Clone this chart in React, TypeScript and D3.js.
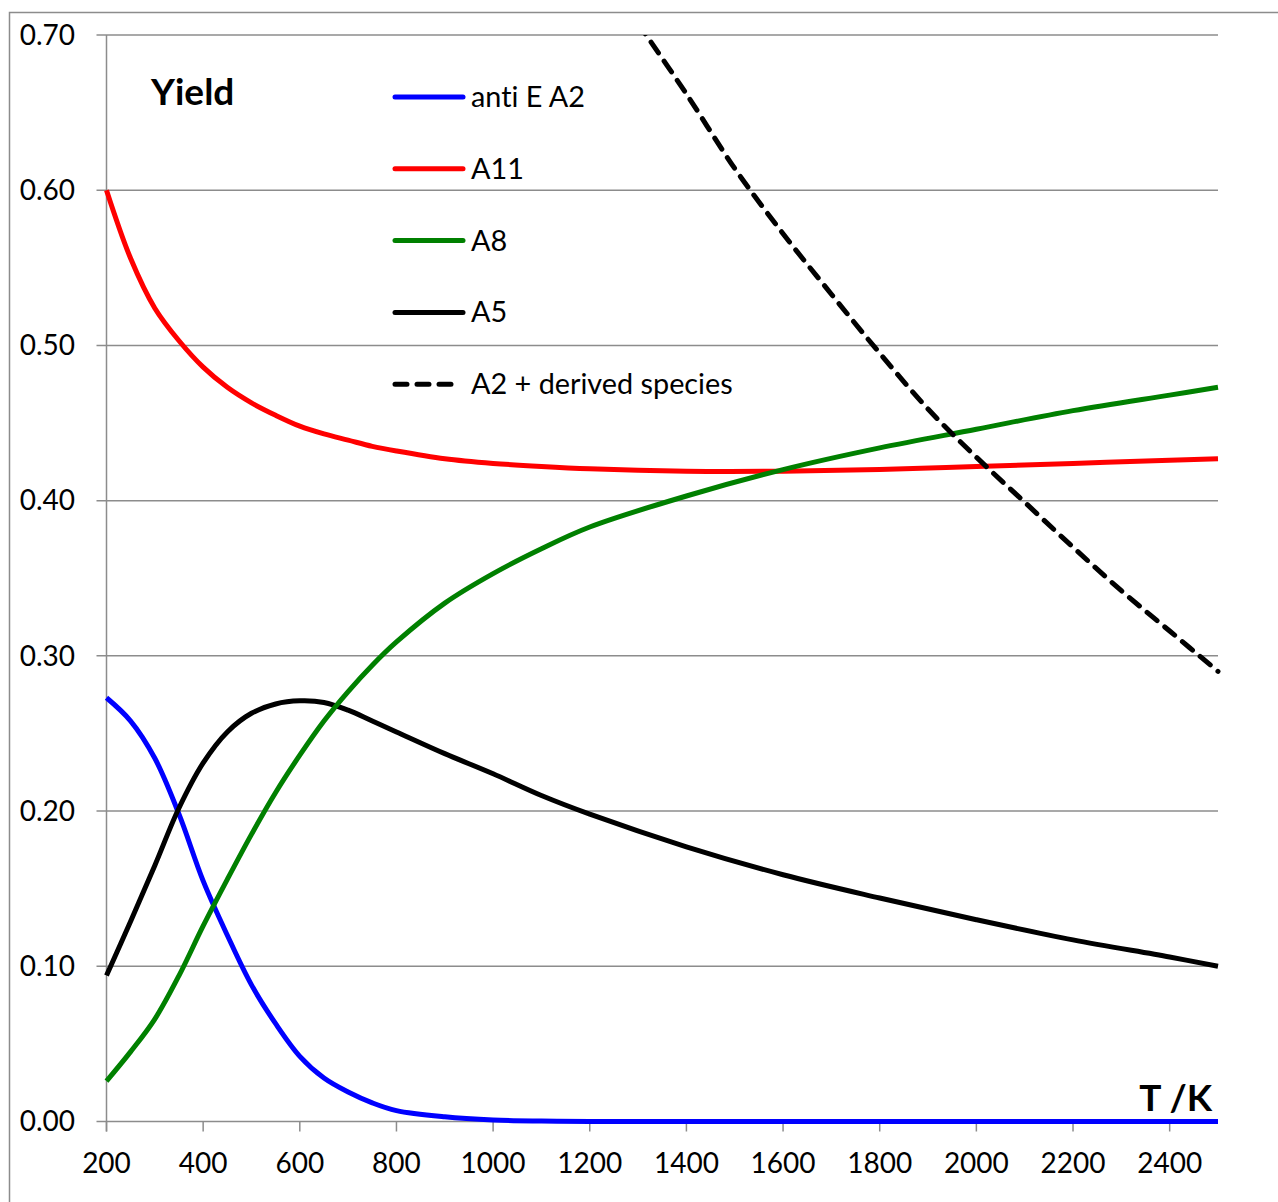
import React, { useEffect, useRef } from 'react';
import * as d3 from 'd3';

// temperatures (K) shared by the four solid series
const temps = [200, 250, 300, 350, 400, 450, 500, 550, 600, 650, 700, 750, 800, 900, 1000, 1100, 1200, 1400, 1600, 1800, 2000, 2200, 2400, 2500];

const antiEA2 = [0.273, 0.258, 0.234, 0.198, 0.155, 0.12, 0.088, 0.063, 0.042, 0.028, 0.019, 0.012, 0.007, 0.003, 0.001, 0.0003, 0, 0, 0, 0, 0, 0, 0, 0];
const a11 = [0.6, 0.556, 0.524, 0.503, 0.486, 0.473, 0.463, 0.455, 0.448, 0.443, 0.439, 0.435, 0.432, 0.427, 0.424, 0.422, 0.4205, 0.419, 0.419, 0.42, 0.422, 0.424, 0.426, 0.427];
const a8 = [0.026, 0.045, 0.066, 0.094, 0.126, 0.156, 0.185, 0.212, 0.236, 0.258, 0.277, 0.294, 0.309, 0.334, 0.353, 0.369, 0.383, 0.403, 0.42, 0.434, 0.446, 0.458, 0.468, 0.473];
const a5 = [0.094, 0.129, 0.165, 0.202, 0.231, 0.251, 0.263, 0.269, 0.271, 0.27, 0.265, 0.258, 0.251, 0.237, 0.224, 0.21, 0.198, 0.177, 0.159, 0.144, 0.13, 0.117, 0.106, 0.1];

// A2 + derived species (dashed), only above 1300 K
const derivedTemps = [1300, 1400, 1500, 1600, 1700, 1800, 1900, 2000, 2100, 2200, 2300, 2400, 2500];
const derivedYield = [0.7075, 0.662, 0.614, 0.572, 0.533, 0.495, 0.459, 0.428, 0.399, 0.37, 0.342, 0.316, 0.29];

const xTicks = [200, 400, 600, 800, 1000, 1200, 1400, 1600, 1800, 2000, 2200, 2400];
const yTicks = [0, 0.1, 0.2, 0.3, 0.4, 0.5, 0.6, 0.7];

const seriesNames = ['anti E A2', 'A11', 'A8', 'A5', 'A2 + derived species'];

const FONT = 'Lato, "Open Sans", sans-serif';
const GRID = '#8c8c8c';

export default function App() {
  const ref = useRef<SVGSVGElement>(null);

  useEffect(() => {
    const width = 1278;
    const height = 1202;
    const svg = d3.select(ref.current);
    svg.selectAll('*').remove();
    svg.attr('width', width).attr('height', height)
      .style('font-variant-ligatures', 'none');

    const x = d3.scaleLinear().domain([200, 2500]).range([106.5, 1218]);
    const y = d3.scaleLinear().domain([0, 0.7]).range([1121.5, 35]);

    // outer frame
    svg.append('rect')
      .attr('x', 9.5).attr('y', 12.5)
      .attr('width', width).attr('height', height)
      .attr('fill', 'none').attr('stroke', GRID).attr('stroke-width', 1.5);

    svg.append('defs').append('clipPath').attr('id', 'plot-clip')
      .append('rect')
      .attr('x', x(200) - 4).attr('y', y(0.7))
      .attr('width', x(2500) - x(200) + 8).attr('height', y(0) - y(0.7) + 4);

    // horizontal gridlines + left ticks
    svg.append('g').selectAll('line')
      .data(yTicks)
      .enter().append('line')
      .attr('x1', x(200) - 10).attr('x2', x(2500))
      .attr('y1', d => y(d)).attr('y2', d => y(d))
      .attr('stroke', GRID).attr('stroke-width', 1.5);

    // vertical axis
    svg.append('line')
      .attr('x1', x(200)).attr('x2', x(200))
      .attr('y1', y(0.7)).attr('y2', y(0) + 10)
      .attr('stroke', GRID).attr('stroke-width', 1.5);

    // bottom ticks
    svg.append('g').selectAll('line')
      .data(xTicks)
      .enter().append('line')
      .attr('x1', d => x(d)).attr('x2', d => x(d))
      .attr('y1', y(0)).attr('y2', y(0) + 10)
      .attr('stroke', GRID).attr('stroke-width', 1.5);

    svg.append('g').selectAll('text')
      .data(yTicks)
      .enter().append('text')
      .attr('x', 75).attr('y', d => y(d)).attr('dy', '0.35em')
      .attr('text-anchor', 'end')
      .style('font-family', FONT).style('font-size', '28px').attr('fill', '#000')
      .text(d => d3.format('.2f')(d));

    svg.append('g').selectAll('text')
      .data(xTicks)
      .enter().append('text')
      .attr('x', d => x(d)).attr('y', y(0) + 51)
      .attr('text-anchor', 'middle')
      .style('font-family', FONT).style('font-size', '28px').attr('fill', '#000')
      .text(d => d);

    const line = d3.line<[number, number]>()
      .x(d => x(d[0]))
      .y(d => y(d[1]))
      .curve(d3.curveCatmullRom.alpha(0.5));

    const series = [
      { values: antiEA2, color: '#0000ff' },
      { values: a11, color: '#ff0000' },
      { values: a5, color: '#000000' },
      { values: a8, color: '#008000' },
    ];

    const plot = svg.append('g').attr('clip-path', 'url(#plot-clip)');

    series.forEach(s => {
      plot.append('path')
        .datum(temps.map((t, i) => [t, s.values[i]] as [number, number]))
        .attr('d', line)
        .attr('fill', 'none')
        .attr('stroke', s.color)
        .attr('stroke-width', 5)
        .attr('stroke-linejoin', 'round');
    });

    plot.append('path')
      .datum(derivedTemps.map((t, i) => [t, derivedYield[i]] as [number, number]))
      .attr('d', line)
      .attr('fill', 'none')
      .attr('stroke', '#000')
      .attr('stroke-width', 5)
      .attr('stroke-dasharray', '13 10')
      .attr('stroke-linecap', 'round');

    // legend
    const legendColors = ['#0000ff', '#ff0000', '#008000', '#000000', '#000000'];
    const legend = svg.append('g');
    seriesNames.forEach((name, i) => {
      const ly = 97 + i * 71.8;
      const dashed = i === 4;
      legend.append('line')
        .attr('x1', 395).attr('x2', dashed ? 454 : 463)
        .attr('y1', ly).attr('y2', ly)
        .attr('stroke', legendColors[i])
        .attr('stroke-width', 5)
        .attr('stroke-linecap', 'round')
        .attr('stroke-dasharray', dashed ? '12 10' : null);
      legend.append('text')
        .attr('x', 471).attr('y', ly).attr('dy', '0.35em')
        .style('font-family', FONT).style('font-size', '28.8px').attr('fill', '#000')
        .text(name);
    });

    svg.append('text')
      .attr('x', 151).attr('y', 105)
      .style('font-family', FONT).style('font-size', '37px').style('font-weight', 'bold')
      .text('Yield');

    svg.append('text')
      .attr('x', 1212).attr('y', 1111)
      .attr('text-anchor', 'end')
      .style('font-family', FONT).style('font-size', '37px').style('font-weight', 'bold')
      .text('T /K');
  }, []);

  return <svg ref={ref} style={{ position: 'absolute', left: 0, top: 0 }} />;
}
